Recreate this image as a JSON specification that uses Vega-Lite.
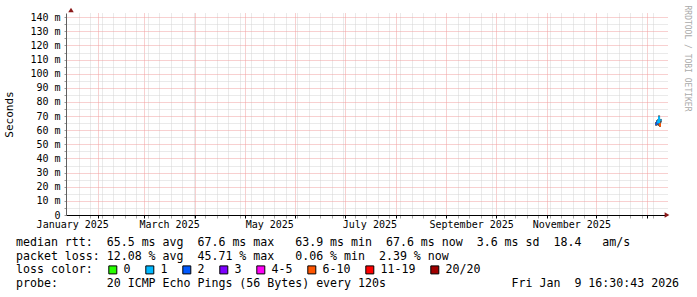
{
  "$schema": "https://vega.github.io/schema/vega-lite/v6.json",
  "width": 601,
  "height": 202,
  "autosize": {"type": "none"},
  "padding": {"left": 66, "top": 13, "right": 30, "bottom": 82},
  "background": "white",
  "config": {"view": {"stroke": null}, "font": "DejaVu Sans Mono"},
  "title": {
    "text": [
      "median\u00a0rtt:\u00a0\u00a065.5\u00a0ms\u00a0avg\u00a0\u00a067.6\u00a0ms\u00a0max\u00a0\u00a0\u00a063.9\u00a0ms\u00a0min\u00a0\u00a067.6\u00a0ms\u00a0now\u00a0\u00a03.6\u00a0ms\u00a0sd\u00a0\u00a018.4\u00a0\u00a0\u00a0am/s",
      "packet\u00a0loss:\u00a012.08\u00a0%\u00a0avg\u00a0\u00a045.71\u00a0%\u00a0max\u00a0\u00a0\u00a00.06\u00a0%\u00a0min\u00a0\u00a02.39\u00a0%\u00a0now",
      "loss\u00a0color:",
      "probe:\u00a0\u00a0\u00a0\u00a0\u00a0\u00a0\u00a020\u00a0ICMP\u00a0Echo\u00a0Pings\u00a0(56\u00a0Bytes)\u00a0every\u00a0120s\u00a0\u00a0\u00a0\u00a0\u00a0\u00a0\u00a0\u00a0\u00a0\u00a0\u00a0\u00a0\u00a0\u00a0\u00a0\u00a0\u00a0\u00a0Fri\u00a0Jan\u00a0\u00a09\u00a016:30:43\u00a02026"
    ],
    "orient": "bottom",
    "anchor": "start",
    "frame": "group",
    "font": "DejaVu Sans Mono",
    "fontSize": 11.6,
    "fontWeight": "normal",
    "color": "black",
    "lineHeight": 13.67,
    "baseline": "top",
    "dx": -50,
    "offset": -39
  },
  "data": {
    "values": [
      {"t": "2026-01-06T16:00:00Z", "lo": 63.2, "hi": 65.8, "m1": 63.9, "m2": 64.6, "loss": "2"},
      {"t": "2026-01-07T07:00:00Z", "lo": 63.5, "hi": 67.2, "m1": 64.6, "m2": 66.2, "loss": "2"},
      {"t": "2026-01-07T21:00:00Z", "lo": 64.0, "hi": 67.8, "m1": 65.0, "m2": 67.0, "loss": "1"},
      {"t": "2026-01-08T12:00:00Z", "lo": 63.0, "hi": 70.5, "m1": 65.0, "m2": 69.8, "loss": "1"},
      {"t": "2026-01-09T02:00:00Z", "lo": 62.4, "hi": 66.0, "m1": 62.6, "m2": 65.0, "loss": "6-10"},
      {"t": "2026-01-09T14:00:00Z", "lo": 65.5, "hi": 68.0, "m1": 66.8, "m2": 67.6, "loss": "1"}
    ]
  },
  "layer": [
    {
      "mark": {"type": "rule", "color": "#555555", "strokeWidth": 2},
      "encoding": {
        "x": {
          "field": "t",
          "type": "temporal",
          "title": null,
          "scale": {
            "type": "utc",
            "nice": false,
            "domain": [
              {"year": 2025, "month": 1, "date": 15, "hours": 7, "utc": true},
              {"year": 2026, "month": 1, "date": 10, "hours": 7, "utc": true}
            ]
          },
          "axis": {
            "title": null,
            "tickCount": 500,
            "values": [
              {"year": 2025, "month": 1, "date": 20, "utc": true},
              {"year": 2025, "month": 1, "date": 27, "utc": true},
              {"year": 2025, "month": 2, "date": 3, "utc": true},
              {"year": 2025, "month": 2, "date": 10, "utc": true},
              {"year": 2025, "month": 2, "date": 17, "utc": true},
              {"year": 2025, "month": 2, "date": 24, "utc": true},
              {"year": 2025, "month": 3, "date": 3, "utc": true},
              {"year": 2025, "month": 3, "date": 10, "utc": true},
              {"year": 2025, "month": 3, "date": 17, "utc": true},
              {"year": 2025, "month": 3, "date": 24, "utc": true},
              {"year": 2025, "month": 3, "date": 31, "utc": true},
              {"year": 2025, "month": 4, "date": 7, "utc": true},
              {"year": 2025, "month": 4, "date": 14, "utc": true},
              {"year": 2025, "month": 4, "date": 21, "utc": true},
              {"year": 2025, "month": 4, "date": 28, "utc": true},
              {"year": 2025, "month": 5, "date": 5, "utc": true},
              {"year": 2025, "month": 5, "date": 12, "utc": true},
              {"year": 2025, "month": 5, "date": 19, "utc": true},
              {"year": 2025, "month": 5, "date": 26, "utc": true},
              {"year": 2025, "month": 6, "date": 2, "utc": true},
              {"year": 2025, "month": 6, "date": 9, "utc": true},
              {"year": 2025, "month": 6, "date": 16, "utc": true},
              {"year": 2025, "month": 6, "date": 23, "utc": true},
              {"year": 2025, "month": 6, "date": 30, "utc": true},
              {"year": 2025, "month": 7, "date": 7, "utc": true},
              {"year": 2025, "month": 7, "date": 14, "utc": true},
              {"year": 2025, "month": 7, "date": 21, "utc": true},
              {"year": 2025, "month": 7, "date": 28, "utc": true},
              {"year": 2025, "month": 8, "date": 4, "utc": true},
              {"year": 2025, "month": 8, "date": 11, "utc": true},
              {"year": 2025, "month": 8, "date": 18, "utc": true},
              {"year": 2025, "month": 8, "date": 25, "utc": true},
              {"year": 2025, "month": 9, "date": 8, "utc": true},
              {"year": 2025, "month": 9, "date": 15, "utc": true},
              {"year": 2025, "month": 9, "date": 22, "utc": true},
              {"year": 2025, "month": 9, "date": 29, "utc": true},
              {"year": 2025, "month": 10, "date": 6, "utc": true},
              {"year": 2025, "month": 10, "date": 13, "utc": true},
              {"year": 2025, "month": 10, "date": 20, "utc": true},
              {"year": 2025, "month": 10, "date": 27, "utc": true},
              {"year": 2025, "month": 11, "date": 3, "utc": true},
              {"year": 2025, "month": 11, "date": 10, "utc": true},
              {"year": 2025, "month": 11, "date": 17, "utc": true},
              {"year": 2025, "month": 11, "date": 24, "utc": true},
              {"year": 2025, "month": 12, "date": 8, "utc": true},
              {"year": 2025, "month": 12, "date": 15, "utc": true},
              {"year": 2025, "month": 12, "date": 22, "utc": true},
              {"year": 2025, "month": 12, "date": 29, "utc": true},
              {"year": 2026, "month": 1, "date": 5, "utc": true},
              {"year": 2025, "month": 2, "date": 1, "utc": true},
              {"year": 2025, "month": 3, "date": 1, "utc": true},
              {"year": 2025, "month": 4, "date": 1, "utc": true},
              {"year": 2025, "month": 5, "date": 1, "utc": true},
              {"year": 2025, "month": 6, "date": 1, "utc": true},
              {"year": 2025, "month": 7, "date": 1, "utc": true},
              {"year": 2025, "month": 8, "date": 1, "utc": true},
              {"year": 2025, "month": 9, "date": 1, "utc": true},
              {"year": 2025, "month": 10, "date": 1, "utc": true},
              {"year": 2025, "month": 11, "date": 1, "utc": true},
              {"year": 2025, "month": 12, "date": 1, "utc": true},
              {"year": 2026, "month": 1, "date": 1, "utc": true},
              {"year": 2025, "month": 1, "date": 16, "hours": 1, "utc": true},
              {"year": 2025, "month": 3, "date": 16, "hours": 1, "utc": true},
              {"year": 2025, "month": 5, "date": 16, "hours": 1, "utc": true},
              {"year": 2025, "month": 7, "date": 16, "hours": 1, "utc": true},
              {"year": 2025, "month": 9, "date": 16, "hours": 1, "utc": true},
              {"year": 2025, "month": 11, "date": 16, "hours": 1, "utc": true}
            ],
            "labelExpr": "utchours(datum.value) === 1 ? utcFormat(datum.value, '%B %Y') : ''",
            "labelOverlap": false,
            "labelFont": "DejaVu Sans Mono",
            "labelFontSize": 10,
            "labelColor": "black",
            "labelPadding": 1,
            "labelFlush": false,
            "labelBound": false,
            "domainColor": "black",
            "domainWidth": 1,
            "tickSize": 3,
            "tickColor": {"condition": {"test": "utcdate(datum.value) === 1 && utchours(datum.value) === 0", "value": "#000000"}, "value": "#aaaaaa"},
            "tickOpacity": {"condition": {"test": "utchours(datum.value) === 1", "value": 0}, "value": 1},
            "grid": true,
            "gridDash": [1, 1],
            "gridColor": {"condition": {"test": "utcdate(datum.value) === 1 && utchours(datum.value) === 0", "value": "#f0a0a0"}, "value": "#d5d5d5"},
            "gridOpacity": {"condition": {"test": "utchours(datum.value) === 1", "value": 0}, "value": 1}
          }
        },
        "y": {
          "field": "lo",
          "type": "quantitative",
          "scale": {"domain": [0, 143], "nice": false, "zero": true},
          "axis": {
            "title": "Seconds",
            "titleFont": "DejaVu Sans Mono",
            "titleFontSize": 11,
            "titleFontWeight": "normal",
            "titleColor": "black",
            "titlePadding": 15,
            "tickCount": 500,
            "values": [0, 5, 10, 15, 20, 25, 30, 35, 40, 45, 50, 55, 60, 65, 70, 75, 80, 85, 90, 95, 100, 105, 110, 115, 120, 125, 130, 135, 140],
            "labelExpr": "datum.value % 10 === 0 ? (datum.value === 0 ? '0' : datum.value + ' m') : ''",
            "labelOverlap": false,
            "labelFont": "DejaVu Sans Mono",
            "labelFontSize": 10,
            "labelColor": "black",
            "labelPadding": 4,
            "labelFlush": false,
            "labelBound": false,
            "domainColor": "#606060",
            "tickSize": 2,
            "tickColor": "#999999",
            "grid": true,
            "gridDash": [1, 1],
            "gridColor": {"condition": {"test": "datum.value % 10 === 0", "value": "#f0a0a0"}, "value": "#d5d5d5"}
          }
        },
        "y2": {"field": "hi"}
      }
    },
    {
      "mark": {"type": "bar", "size": 2},
      "encoding": {
        "x": {"field": "t", "type": "temporal", "title": null},
        "y": {"field": "m1", "type": "quantitative", "axis": null},
        "y2": {"field": "m2"},
        "color": {
          "field": "loss",
          "type": "nominal",
          "scale": {
            "domain": ["0", "1", "2", "3", "4-5", "6-10", "11-19", "20/20"],
            "range": ["#26ff00", "#00b8ff", "#0059ff", "#7e00ff", "#ff00f5", "#ff5500", "#ff0000", "#a00000"]
          },
          "legend": {
            "orient": "none",
            "legendX": 41,
            "legendY": 251,
            "direction": "horizontal",
            "title": null,
            "symbolType": "square",
            "symbolSize": 64,
            "symbolStrokeColor": "black",
            "symbolStrokeWidth": 1,
            "symbolOpacity": 1,
            "labelFont": "DejaVu Sans Mono",
            "labelFontSize": 11.6,
            "labelColor": "black",
            "labelOffset": 5,
            "columnPadding": 12,
            "labelLimit": 0
          }
        }
      }
    },
    {
      "data": {"values": [{}]},
      "mark": {"type": "point", "shape": "triangle-up", "filled": true, "size": 30, "color": "#8b1a1a", "opacity": 1, "yOffset": -3},
      "encoding": {
        "x": {"datum": {"year": 2025, "month": 1, "date": 15, "hours": 7, "utc": true}, "type": "temporal", "title": null},
        "y": {
          "datum": 143,
          "type": "quantitative",
          "axis": {
            "orient": "right",
            "title": "RRDTOOL / TOBI OETIKER",
            "labels": false,
            "ticks": false,
            "domain": false,
            "grid": false,
            "titleAngle": 90,
            "titleFont": "DejaVu Sans Mono",
            "titleFontSize": 8,
            "titleFontWeight": "normal",
            "titleColor": "#aaaaaa",
            "titleX": 19,
            "titleY": -8,
            "titleAlign": "left",
            "titleBaseline": "middle"
          }
        }
      }
    },
    {
      "data": {"values": [{}]},
      "mark": {"type": "point", "shape": "triangle-right", "filled": true, "size": 30, "color": "#8b1a1a", "opacity": 1, "xOffset": 5},
      "encoding": {
        "x": {"datum": {"year": 2026, "month": 1, "date": 10, "hours": 7, "utc": true}, "type": "temporal", "title": null},
        "y": {"datum": 0, "type": "quantitative", "axis": null}
      }
    }
  ],
  "resolve": {"axis": {"y": "independent"}}
}
